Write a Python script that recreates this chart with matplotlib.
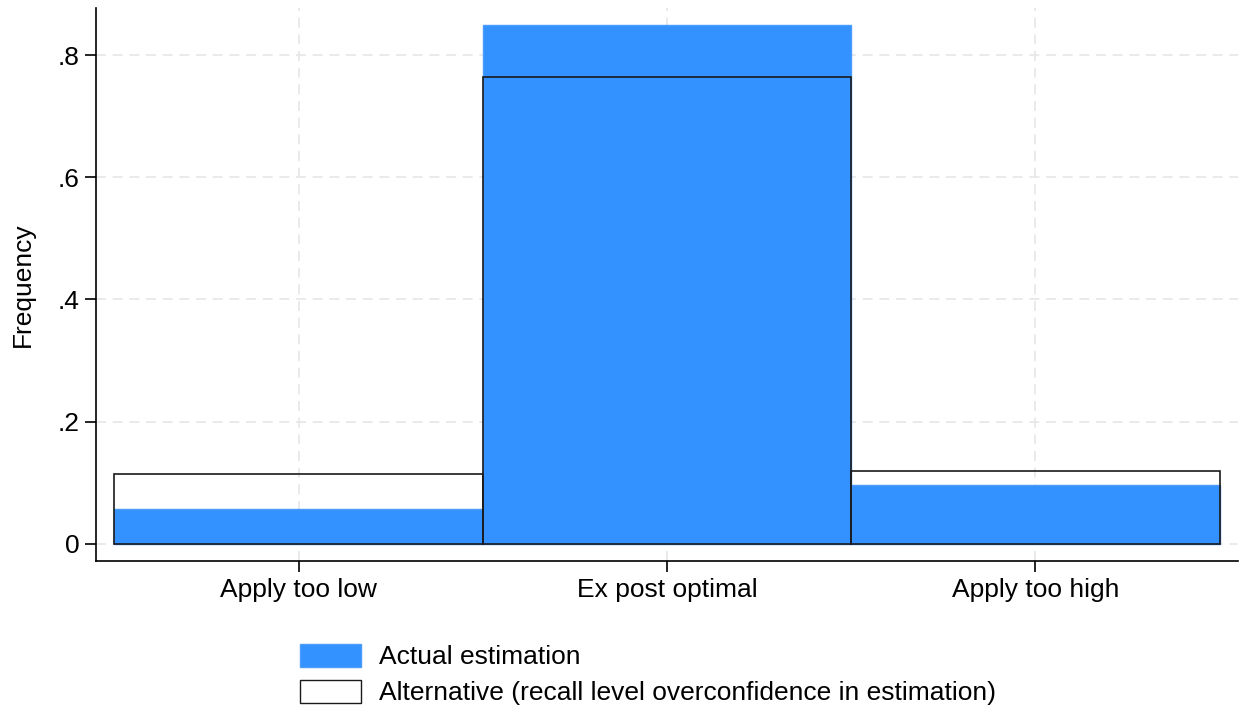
import matplotlib
import matplotlib.pyplot as plt
import numpy as np
from matplotlib.patches import Patch

matplotlib.use("Agg")
plt.rcParams['font.family'] = ['Liberation Sans', 'DejaVu Sans']

categories = ['Apply too low', 'Ex post optimal', 'Apply too high']
actual = [0.057, 0.849, 0.096]
alternative = [0.115, 0.764, 0.119]
yticks = [0, 0.2, 0.4, 0.6, 0.8]
ytick_labels = ['0', '.2', '.4', '.6', '.8']

blue = '#3392ff'

fig = plt.figure(figsize=(12.39, 7.11), dpi=100)
ax = fig.add_axes([96 / 1239, 150 / 711, 1142 / 1239, 553 / 711])

x = np.arange(1, len(categories) + 1)
ax.bar(x, actual, width=1.0, color=blue, edgecolor='#4a9dff', linewidth=1.0, zorder=2)
ax.bar(x, alternative, width=1.0, fill=False, edgecolor='#1a1a1a', linewidth=1.2, zorder=3)

ax.set_xlim(0.45, 3.55)
ax.set_ylim(-0.028, 0.877)
ax.set_xticks(x)
ax.set_xticklabels(categories, fontsize=19)
ax.set_yticks(yticks)
ax.set_yticklabels(ytick_labels, fontsize=19)
ax.set_ylabel('Frequency', fontsize=19, labelpad=16)

ax.grid(True, color='#e6e6e6', linestyle=(0, (6, 4)), linewidth=1.2, zorder=0)
ax.set_axisbelow(True)
for s in ['top', 'right']:
    ax.spines[s].set_visible(False)
for s in ['left', 'bottom']:
    ax.spines[s].set_linewidth(1.2)
ax.tick_params(axis='both', direction='out', length=8, width=1.2, pad=4)

handles = [Patch(facecolor=blue, edgecolor='#4a9dff', label='Actual estimation'),
           Patch(facecolor='white', edgecolor='#1a1a1a', label='Alternative (recall level overconfidence in estimation)')]
fig.legend(handles=handles, loc='upper left', bbox_to_anchor=(292 / 1239, 1 - 636 / 711),
           frameon=False, fontsize=19, handlelength=2.3, handleheight=0.95,
           handletextpad=0.7, labelspacing=0.4, borderaxespad=0, borderpad=0.3)

fig.savefig('out.png', dpi=100)
